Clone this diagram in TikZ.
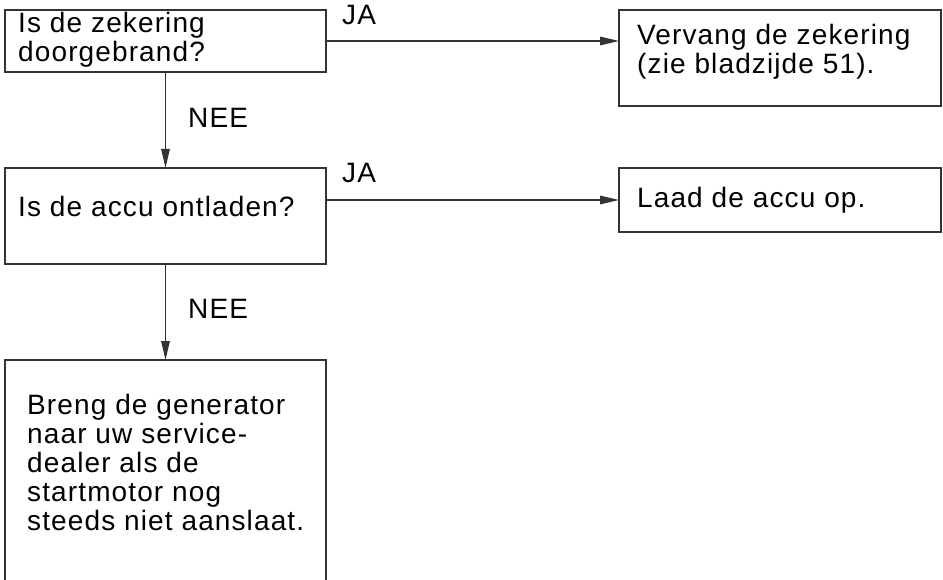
\documentclass[tikz,border=0pt]{standalone}
\usepackage{fontspec}
\setmainfont{Liberation Sans}[LetterSpace=4]
\usetikzlibrary{arrows.meta}
\definecolor{ink}{HTML}{333333}
\begin{document}
\begin{tikzpicture}[x=1pt,y=-1pt,
  box/.style={rectangle, draw=ink, line width=1.5pt, anchor=north west, inner sep=0pt, outer sep=0pt},
  openbox/.style={rectangle, anchor=north west, inner sep=0pt, outer sep=0pt},
  txt/.style={anchor=base west, inner sep=0pt, font=\fontsize{28}{29}\selectfont, text=black},
  arr/.style={draw=ink, line width=1.5pt, -{Triangle[length=19pt,width=8.5pt]}}
]
\useasboundingbox (0,0) rectangle (943,580);

% boxes
\node[box, minimum width=321, minimum height=62] (b1) at (5,10) {};
\node[box, minimum width=322, minimum height=96] (b2) at (619,10) {};
\node[box, minimum width=321, minimum height=96] (b3) at (5,168) {};
\node[box, minimum width=322, minimum height=64] (b4) at (619,168) {};
\node[openbox, minimum width=321, minimum height=240] (b5) at (5,360) {};
\draw[draw=ink, line width=1.5pt] (b5.south west) -- (b5.north west) -- (b5.north east) -- (b5.south east);

% texts
\node[txt] (t1) at (18,33) {\begin{tabular}[t]{@{}l@{}}Is de zekering\\doorgebrand?\end{tabular}};
\node[txt] (t2) at (637,45) {\begin{tabular}[t]{@{}l@{}}Vervang de zekering\\(zie bladzijde 51).\end{tabular}};
\node[txt] (t3) at (18,217) {Is de accu ontladen?};
\node[txt] (t4) at (637,208) {Laad de accu op.};
\node[txt] (t5) at (27,414) {\begin{tabular}[t]{@{}l@{}}Breng de generator\\naar uw service-\\dealer als de\\startmotor nog\\steeds niet aanslaat.\end{tabular}};

% connectors
\draw[arr] (b1.south) -- (b3.north);
\draw[arr] (b3.south) -- (b5.north);
\draw[arr] (b1.east) -- (b1.east -| b2.west);
\draw[arr] (b3.east |- b4.west) -- (b4.west);

% labels
\node[txt] (ja1) at (342,25) {JA};
\node[txt] (ja2) at (342,183) {JA};
\node[txt] (nee1) at (188,128) {NEE};
\node[txt] (nee2) at (188,318) {NEE};
\end{tikzpicture}
\end{document}
